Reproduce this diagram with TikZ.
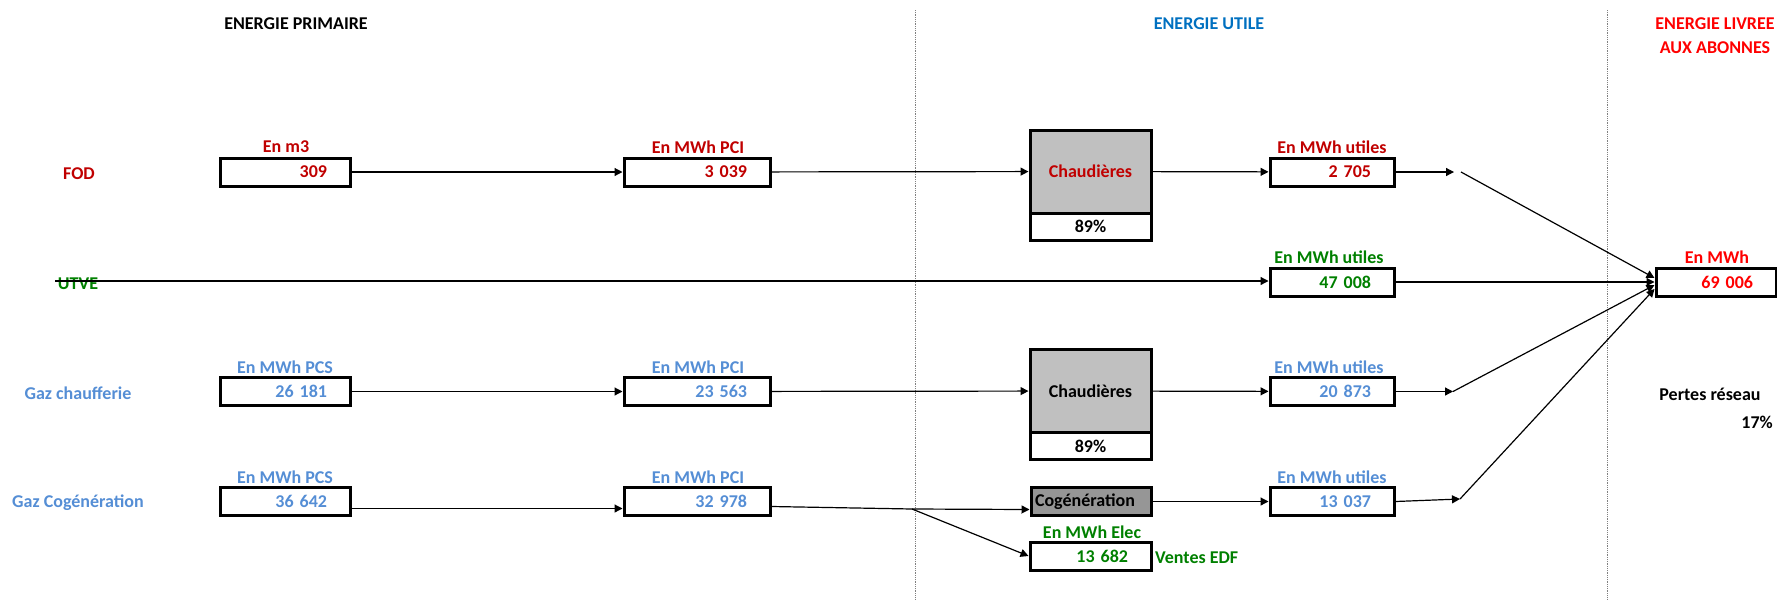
\documentclass[tikz,border=0pt]{standalone}
\usepackage{fontspec}
\setmainfont{Carlito}
\usetikzlibrary{arrows.meta}
\definecolor{fodred}{HTML}{C00000}
\definecolor{livred}{HTML}{FF0000}
\definecolor{gazblue}{HTML}{558ED5}
\definecolor{utblue}{HTML}{0070C0}
\definecolor{utvegreen}{HTML}{008000}
\definecolor{chgray}{HTML}{C0C0C0}
\definecolor{cogray}{HTML}{969696}
\begin{document}
\begin{tikzpicture}[x=1pt,y=-1pt,
 every node/.style={font=\bfseries\fontsize{18}{24}\selectfont,inner sep=0pt},
 val/.style={draw,line width=3pt,minimum height=28pt,inner xsep=23pt,text width=#1,align=right},
 chbox/.style={draw,line width=3pt,fill=chgray,minimum width=121pt,minimum height=83pt},
 effbox/.style={draw,line width=3pt,minimum width=121pt,minimum height=27pt},
 cobox/.style={draw,line width=3pt,fill=cogray,minimum height=28pt,inner xsep=4pt,text width=112pt,align=left},
 flow/.style={line width=1.2pt,-{Triangle[length=8pt,width=8pt]}},
 sep/.style={gray,densely dotted,line width=0.8pt}]
\useasboundingbox (0,0) rectangle (1777,600);
\draw[sep] (915,10) -- (915,600);
\draw[sep] (1607,10) -- (1607,600);

\node (T1) at (296,24) {ENERGIE PRIMAIRE};
\node[text=utblue] (T2) at (1209,24) {ENERGIE UTILE};
\node[text=livred,align=center] (T3) at (1715,36) {ENERGIE LIVREE\\AUX ABONNES};

\node[text=fodred] (R1) at (79,174) {FOD};
\node[text=utvegreen] (R2) at (78,284) {UTVE};
\node[text=gazblue] (R3) at (78,393) {Gaz chaufferie};
\node[text=gazblue] (R4) at (78,503) {Gaz Cogénération};

\node[text=fodred] (U1) at (286,147) {En m3};
\node[val=84,text=fodred] (A1) at (285,172) {309};
\node[text=fodred] (U2) at (698,147) {En MWh PCI};
\node[val=100,text=fodred] (A2) at (697,172) {3 039};
\node[chbox,text=fodred] (A3) at (1090.5,171.5) {Chaudières};
\node[effbox,anchor=north] (A4) at ([yshift=3pt]A3.south) {89\%};
\node[text=fodred] (U3) at (1332,147) {En MWh utiles};
\node[val=78,text=fodred] (A5) at (1332,172) {2 705};

\node[text=utvegreen] (U4) at (1329,257) {En MWh utiles};
\node[val=78,text=utvegreen] (B1) at (1332,282) {47 008};
\node[text=livred] (U5) at (1717,257) {En MWh};
\node[val=74,text=livred] (B2) at (1716,282) {69 006};

\node[text=gazblue] (U6) at (285,367) {En MWh PCS};
\node[val=84,text=gazblue] (C1) at (285,391.5) {26 181};
\node[text=gazblue] (U7) at (698,367) {En MWh PCI};
\node[val=100,text=gazblue] (C2) at (697,391.5) {23 563};
\node[chbox] (C3) at (1090.5,391) {Chaudières};
\node[effbox,anchor=north] (C4) at ([yshift=3pt]C3.south) {89\%};
\node[text=gazblue] (U8) at (1329,367) {En MWh utiles};
\node[val=78,text=gazblue] (C5) at (1332,391.5) {20 873};
\node (P1) at (1710,394) {Pertes réseau};
\node[anchor=east] (P2) at (1773,422) {17\%};

\node[text=gazblue] (U9) at (285,477) {En MWh PCS};
\node[val=84,text=gazblue] (D1) at (285,501.5) {36 642};
\node[text=gazblue] (U10) at (698,477) {En MWh PCI};
\node[val=100,text=gazblue] (D2) at (697,501.5) {32 978};
\node[cobox] (D3) at (1091,501.5) {Cogénération};
\node[text=utvegreen] (U11) at (1092,532) {En MWh Elec};
\node[val=75,text=utvegreen] (D4) at (1090.5,556) {13 682};
\node[text=utvegreen,anchor=west] (D5) at (1155,558) {Ventes EDF};
\node[text=gazblue] (U12) at (1332,477) {En MWh utiles};
\node[val=78,text=gazblue] (D6) at (1332,501.5) {13 037};

\coordinate (V0) at (55,281);
\coordinate (F1) at (1454,172);
\coordinate (F2) at (1461,172);
\coordinate (F3) at (1453,391.5);
\coordinate (F4) at (1460,499);
\coordinate (S1) at (912,509);

\draw[flow] (A1) -- (A2);
\draw[flow] (A2) -- (A3);
\draw[flow] (A3) -- (A5);
\draw[flow] (A5.east) -- (F1);
\draw[flow] (F2) -- ([yshift=4pt]B2.west);
\draw[flow] (V0) -- (V0 -| B1.west);
\draw[flow] (B1) -- (B2);
\draw[flow] (C1) -- (C2);
\draw[flow] (C2) -- (C3);
\draw[flow] (C3) -- (C5);
\draw[flow] (C5.east) -- (F3);
\draw[flow] (F3) -- ([yshift=-3pt]B2.west);
\draw[flow] ([yshift=-7pt]D1.east) -- ([yshift=-7pt]D2.west);
\draw[flow] ([yshift=-5pt]D2.east) -- (S1) -- ([yshift=-8pt]D3.west);
\draw[flow] (S1) -- (D4.west);
\draw[flow] (D3) -- (D6);
\draw[flow] (D6.east) -- (F4);
\draw[flow] (F4) -- ([yshift=-7pt]B2.west);
\end{tikzpicture}
\end{document}
